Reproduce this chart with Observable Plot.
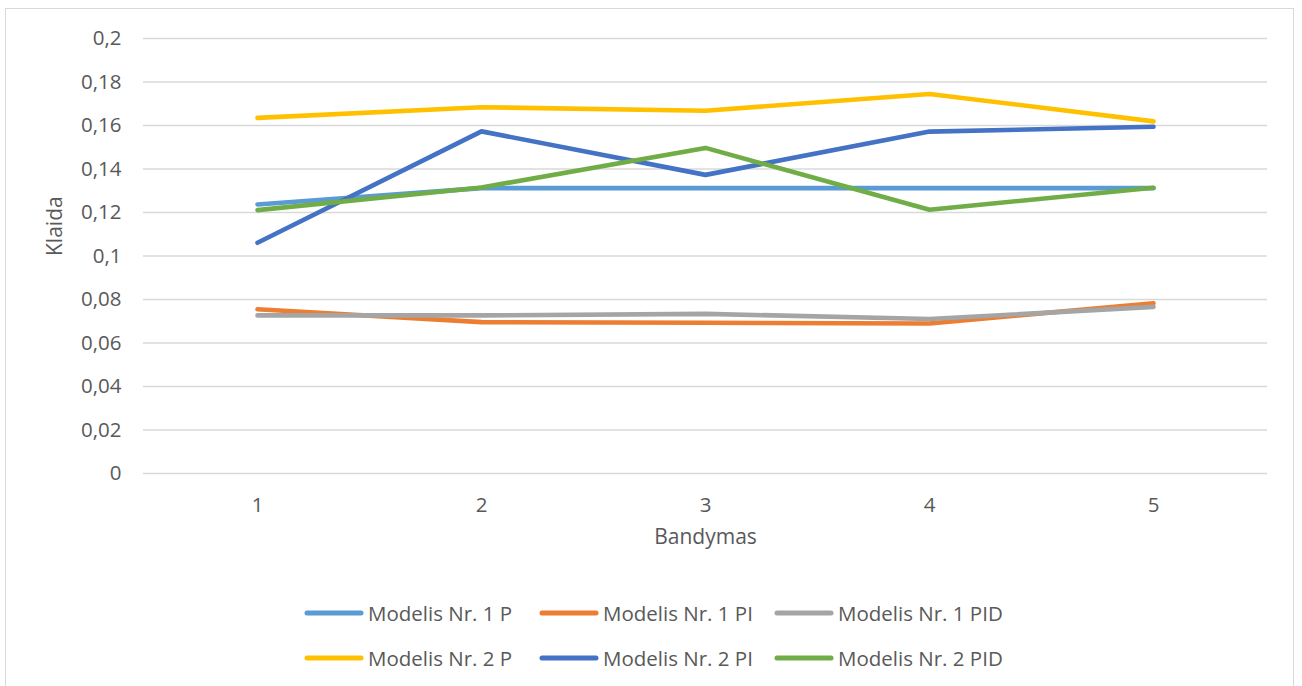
<!DOCTYPE html>
<html>
<head>
<meta charset="utf-8">
<script src="https://cdn.jsdelivr.net/npm/d3@7"></script>
<script src="https://cdn.jsdelivr.net/npm/@observablehq/plot@0.6"></script>
<style>
  html, body { margin: 0; padding: 0; background: #fff; }
  #chart { position: relative; width: 1302px; height: 686px; overflow: hidden; font-family: "Open Sans", sans-serif; color: #595959; }
  #frame { position: absolute; left: 5px; top: 8px; width: 1289px; height: 700px; border: 1.5px solid #d9d9d9; box-sizing: border-box; }
  #plot { position: absolute; left: 0; top: 0; }
  .item { position: absolute; height: 30px; display: flex; align-items: center; font-size: 20.5px; white-space: nowrap; }
  .item svg { margin-right: 4px; }
</style>
</head>
<body>
<div id="chart">
  <div id="frame"></div>
  <div id="plot"></div>
  <div id="legend"></div>
</div>
<script>
// Trial numbers (x categories)
const trials = [1, 2, 3, 4, 5];

// Error per trial for each controller model
const m1P   = [0.1237, 0.1312, 0.1312, 0.1312, 0.1312];
const m1PI  = [0.0755, 0.0696, 0.0693, 0.0690, 0.0783];
const m1PID = [0.0727, 0.0727, 0.0734, 0.0710, 0.0766];
const m2P   = [0.1635, 0.1684, 0.1668, 0.1745, 0.1619];
const m2PI  = [0.1061, 0.1573, 0.1373, 0.1572, 0.1594];
const m2PID = [0.1211, 0.1315, 0.1497, 0.1213, 0.1314];

const seriesNames = [
  "Modelis Nr. 1 P", "Modelis Nr. 1 PI", "Modelis Nr. 1 PID",
  "Modelis Nr. 2 P", "Modelis Nr. 2 PI", "Modelis Nr. 2 PID"
];
const seriesValues = [m1P, m1PI, m1PID, m2P, m2PI, m2PID];
const seriesColors = ["#5B9BD5", "#ED7D31", "#A5A5A5", "#FFC000", "#4472C4", "#70AD47"];

// Y axis ticks
const yTicks = [0, 0.02, 0.04, 0.06, 0.08, 0.1, 0.12, 0.14, 0.16, 0.18, 0.2];
const fmt = d => String(d).replace(".", ",");

// Long-format table for the line mark
const rows = seriesNames.flatMap((name, i) =>
  trials.map((t, j) => ({series: name, trial: t, value: seriesValues[i][j]}))
);

const chart = Plot.plot({
  width: 1302,
  height: 560,
  marginLeft: 143,
  marginRight: 35,
  marginTop: 38,
  marginBottom: 87,
  x: {type: "point", domain: trials, padding: 0.5},
  y: {domain: [0, 0.2]},
  color: {domain: seriesNames, range: seriesColors},
  style: {fontFamily: "'Open Sans', sans-serif", fontSize: "20.5px", color: "#595959", background: "transparent"},
  marks: [
    Plot.gridY(yTicks, {stroke: "#d9d9d9", strokeOpacity: 1, strokeWidth: 1.3}),
    Plot.axisY(yTicks, {tickSize: 0, tickPadding: 22, tickFormat: fmt, label: null, fontSize: 20.5}),
    Plot.axisX(trials, {tickSize: 0, tickPadding: 24, label: null, fontSize: 20.5}),
    Plot.text(["Klaida"], {text: d => d, frameAnchor: "left", rotate: -90, dx: -88, fontSize: 21}),
    Plot.text(["Bandymas"], {text: d => d, frameAnchor: "bottom", dy: 70, fontSize: 21}),
    Plot.lineY(rows, {
      x: "trial", y: "value", z: "series", stroke: "series",
      strokeWidth: 4.6, strokeLinecap: "round", strokeLinejoin: "round"
    })
  ]
});
document.getElementById("plot").append(chart);

// Legend: two rows of three entries
const legend = document.getElementById("legend");
seriesNames.forEach((name, i) => {
  const col = i % 3, row = Math.floor(i / 3);
  const item = document.createElement("div");
  item.className = "item";
  item.style.left = (304 + col * 235) + "px";
  item.style.top = (613 + row * 45 - 15) + "px";
  item.innerHTML =
    `<svg width="60" height="10"><line x1="3" y1="5" x2="57" y2="5" stroke="${seriesColors[i]}" stroke-width="5" stroke-linecap="round"/></svg>` +
    `<span>${name}</span>`;
  legend.append(item);
});
</script>
</body>
</html>
